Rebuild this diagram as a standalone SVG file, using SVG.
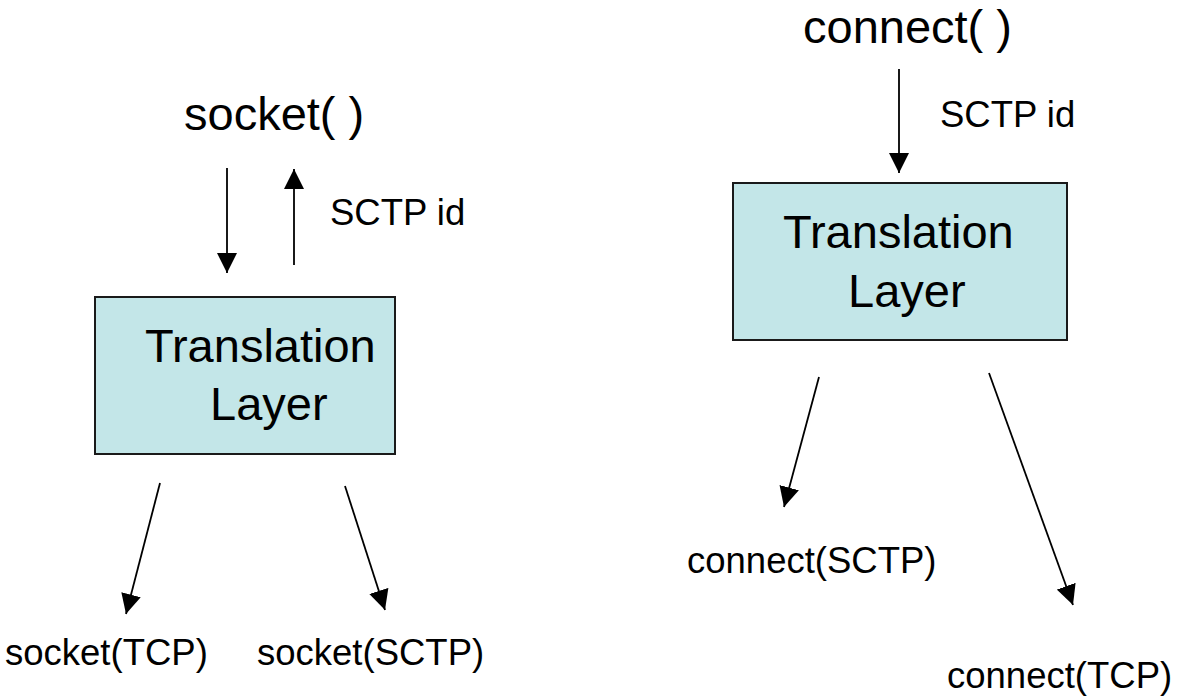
<svg xmlns="http://www.w3.org/2000/svg" width="1179" height="696" viewBox="0 0 1179 696">
  <style>
    .box { fill: #c3e6e8; stroke: #1a1a1a; stroke-width: 2; }
    .t { font-family: "Liberation Sans", Arial, sans-serif; fill: #000; }
    .big { font-size: 47px; }
    .mid { font-size: 36.5px; }
    .wire { stroke: #000; stroke-width: 1.8; fill: none; marker-end: url(#head); }
  </style>
  <defs>
    <marker id="head" viewBox="0 0 20 20" refX="20" refY="10" markerWidth="20" markerHeight="20" markerUnits="userSpaceOnUse" orient="auto">
      <path d="M0,0 L20,10 L0,20 z" fill="#000"/>
    </marker>
  </defs>
  <rect width="1179" height="696" fill="#fff"/>

  <!-- socket() side -->
  <g id="socket-call">
    <text class="t big" x="184" y="130">socket( )</text>
  </g>
  <g id="socket-layer">
    <rect class="box" x="95" y="297" width="300" height="157"/>
    <text class="t big" x="145" y="362">Translation</text>
    <text class="t big" x="210" y="420">Layer</text>
  </g>
  <g id="socket-tcp">
    <text class="t mid" x="5" y="665">socket(TCP)</text>
  </g>
  <g id="socket-sctp">
    <text class="t mid" x="257" y="665">socket(SCTP)</text>
  </g>
  <g id="socket-id-label">
    <text class="t mid" x="330" y="225">SCTP id</text>
  </g>

  <!-- connect() side -->
  <g id="connect-call">
    <text class="t big" x="803" y="43">connect( )</text>
  </g>
  <g id="connect-id-label">
    <text class="t mid" x="940" y="127">SCTP id</text>
  </g>
  <g id="connect-layer">
    <rect class="box" x="733" y="183" width="334" height="157"/>
    <text class="t big" x="783" y="248">Translation</text>
    <text class="t big" x="848" y="307">Layer</text>
  </g>
  <g id="connect-sctp">
    <text class="t mid" x="687" y="573">connect(SCTP)</text>
  </g>
  <g id="connect-tcp">
    <text class="t mid" x="947" y="688">connect(TCP)</text>
  </g>

  <g id="connectors">
    <line class="wire" x1="227" y1="168" x2="227" y2="273"/>
    <line class="wire" x1="294" y1="265" x2="294" y2="169"/>
    <line class="wire" x1="160" y1="483" x2="126" y2="614"/>
    <line class="wire" x1="345" y1="486" x2="385" y2="610"/>
    <line class="wire" x1="899" y1="69" x2="899" y2="173"/>
    <line class="wire" x1="819" y1="377" x2="784" y2="507"/>
    <line class="wire" x1="989" y1="373" x2="1073" y2="605"/>
  </g>
</svg>
